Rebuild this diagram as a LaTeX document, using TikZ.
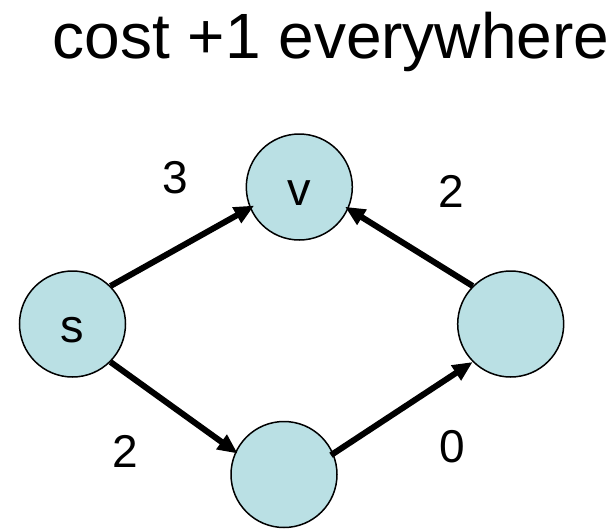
\documentclass[tikz,border=0pt]{standalone}
\usepackage{fontspec}
\setmainfont{Liberation Sans}
\usetikzlibrary{arrows.meta}
\definecolor{nodefill}{RGB}{186,224,228}
\begin{document}
\begin{tikzpicture}[x=1pt,y=-1pt,
  vertex/.style={circle,draw=black,line width=1.5pt,fill=nodefill,minimum size=106pt,inner sep=0pt,
    font=\fontsize{47}{50}\selectfont,text height=36pt,text depth=0pt},
  edgelabel/.style={font=\fontsize{46}{50}\selectfont,inner sep=0pt},
  arc/.style={line width=6pt,-{Triangle[length=20pt,width=17pt]}}]
\useasboundingbox (0,0) rectangle (616,528);
\node[anchor=base,font=\fontsize{64}{70}\selectfont,inner sep=0pt] (title) at (331,58) {cost +1 everywhere};
\node[vertex] (s) at (72.5,324) {s};
\node[vertex] (v) at (299.3,187) {v};
\node[vertex] (r) at (510.7,324) {};
\node[vertex] (b) at (284,474.5) {};
\draw[arc,shorten >=-5pt] (s.45) -- (v.203);
\draw[arc,shorten >=-4pt] (r.135) -- (v.336);
\draw[arc,shorten >=-3pt] (s.315) -- (b.155);
\draw[arc,shorten <=-3pt] (b.23) -- (r.225);
\node[edgelabel] (l3) at (175,178) {3};
\node[edgelabel] (l2a) at (451,191) {2};
\node[edgelabel] (l2b) at (125.5,451) {2};
\node[edgelabel] (l0) at (452,447) {0};
\end{tikzpicture}
\end{document}
